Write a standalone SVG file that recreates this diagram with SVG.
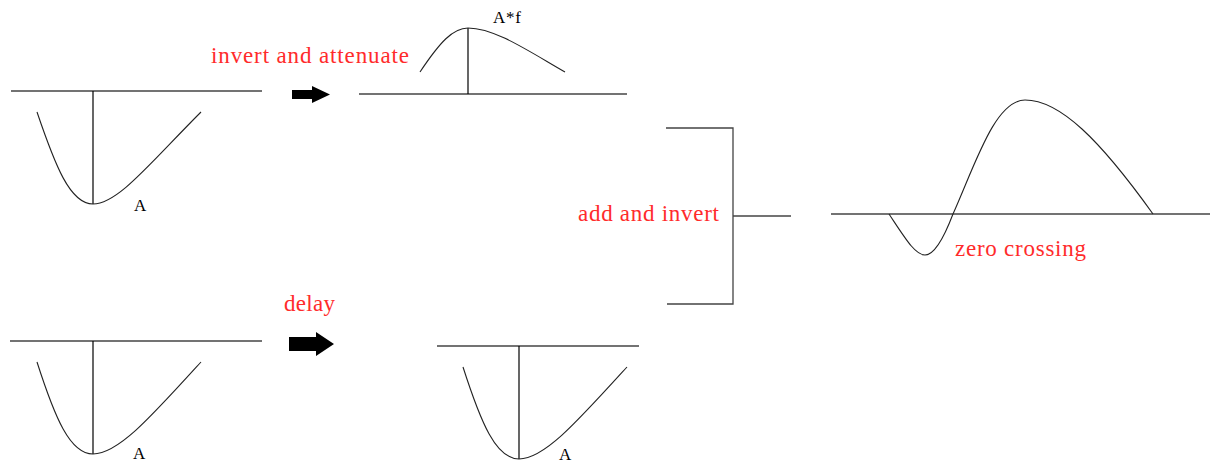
<svg xmlns="http://www.w3.org/2000/svg" width="1213" height="462" viewBox="0 0 1213 462">
<style>
.axis{stroke:#444;stroke-width:1.3;fill:none}
.stem{stroke:#000;stroke-width:1.2;fill:none}
.wave{stroke:#222;stroke-width:1.1;fill:none}
.red{fill:#ff2b2b;font-family:"Liberation Serif",serif;font-size:23px}
.lbl{fill:#000;font-family:"Liberation Serif",serif;font-size:17px}
.arrow{fill:#000}
</style>
<rect width="1213" height="462" fill="#fff"/>
<g id="pulse-top-left">
<line class="axis" x1="11" y1="91" x2="262" y2="91"/>
<line class="stem" x1="93" y1="91" x2="93" y2="204"/>
<path class="wave" d="M37,112 C55,165 70,204 93,204 C118,204 150,163 201,112"/>
<text class="lbl" x="134" y="211">A</text>
</g>
<g id="pulse-top-mid">
<line class="axis" x1="359" y1="94" x2="627" y2="94"/>
<line class="stem" x1="468" y1="28" x2="468" y2="94"/>
<path class="wave" d="M420,72 C440,42 453,28 468,28 C495,28 530,52 565,72"/>
<text class="lbl" x="493" y="23" textLength="28">A*f</text>
</g>
<g id="pulse-bottom-left">
<line class="axis" x1="10" y1="341" x2="262" y2="341"/>
<line class="stem" x1="93" y1="341" x2="93" y2="454"/>
<path class="wave" d="M37,362 C55,418 70,454 93,454 C118,454 150,418 201,362"/>
<text class="lbl" x="133" y="459">A</text>
</g>
<g id="pulse-bottom-mid">
<line class="axis" x1="437" y1="346" x2="639" y2="346"/>
<line class="stem" x1="519" y1="346" x2="519" y2="459"/>
<path class="wave" d="M463,367 C481,423 496,459 519,459 C544,459 576,423 627,367"/>
<text class="lbl" x="559" y="460">A</text>
</g>
<g id="result">
<line class="axis" x1="831" y1="214" x2="1210" y2="214"/>
<path class="wave" d="M889,214 C905,238 915,255 925,255 C935,255 945,235 953,214 C975,165 995,100 1025,100 C1060,100 1100,140 1153,214"/>
<text class="red" x="955" y="256" textLength="131">zero crossing</text>
</g>
<g id="connectors">
<polygon class="arrow" points="292,90 312,90 312,86 330,94.5 312,103 312,99 292,99"/>
<polygon class="arrow" points="289,337 316,337 316,332 334,344 316,356 316,351 289,351"/>
<path class="axis" d="M666,128 H733 V304 H667"/>
<line class="axis" x1="733" y1="216" x2="791" y2="216"/>
</g>
<text class="red" x="211" y="63" textLength="198">invert and attenuate</text>
<text class="red" x="284" y="311" textLength="51">delay</text>
<text class="red" x="578" y="221" textLength="141">add and invert</text>
</svg>
